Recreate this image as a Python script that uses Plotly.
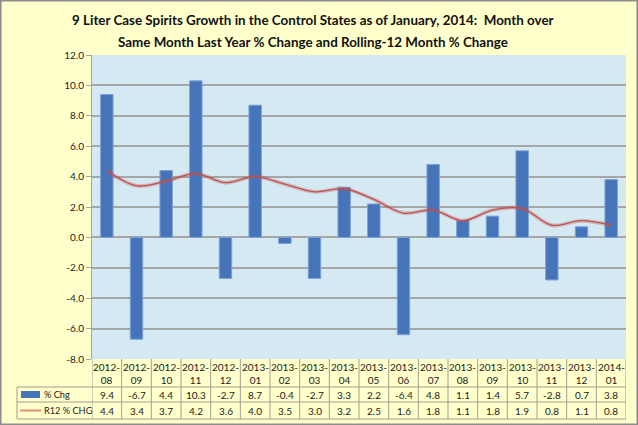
import plotly.graph_objects as go

categories = ["2012-08","2012-09","2012-10","2012-11","2012-12","2013-01","2013-02","2013-03",
              "2013-04","2013-05","2013-06","2013-07","2013-08","2013-09","2013-10","2013-11",
              "2013-12","2014-01"]
pct_chg = [9.4,-6.7,4.4,10.3,-2.7,8.7,-0.4,-2.7,3.3,2.2,-6.4,4.8,1.1,1.4,5.7,-2.8,0.7,3.8]
r12_chg = [4.4,3.4,3.7,4.2,3.6,4.0,3.5,3.0,3.2,2.5,1.6,1.8,1.1,1.8,1.9,0.8,1.1,0.8]
series_names = ["% Chg", "R12 % CHG"]
y_ticks = [-8,-6,-4,-2,0,2,4,6,8,10,12]
title_lines = ["9 Liter Case Spirits Growth in the Control States as of January, 2014:  Month over",
               "Same Month Last Year % Change and Rolling-12 Month % Change"]

W, H = 638, 425
L, R, T, B = 92, 12, 55, 66
PW, PH = W - L - R, H - T - B
def px(x): return (x - L) / PW
def py(y): return (H - B - y) / PH

FONT = "Lato, sans-serif"
BAR = "#4674B8"
GRID = "#A6A6A6"
TBL = "#A09F8F"

n = len(categories)
xs = list(range(n))

fig = go.Figure()
fig.add_trace(go.Bar(x=xs, y=pct_chg, width=0.42, marker=dict(color=BAR, line=dict(color="#7FA3D6", width=1)),
                     name=series_names[0], showlegend=False))
fig.add_trace(go.Scatter(x=xs, y=r12_chg, mode="lines", line=dict(color="rgba(192,80,77,0.3)", width=4, shape="spline", smoothing=1.0),
                         showlegend=False, hoverinfo="skip"))
fig.add_trace(go.Scatter(x=xs, y=r12_chg, mode="lines", line=dict(color="#C0504D", width=1.3, shape="spline", smoothing=1.0),
                         name=series_names[1], showlegend=False))

shapes = []
annotations = []
shapes.append(dict(type="rect", xref="paper", yref="paper", x0=px(0.75), x1=px(W-0.75), y0=py(0.75), y1=py(H-0.75),
                   line=dict(color="#8C8C8C", width=1.5), fillcolor="rgba(0,0,0,0)", layer="below"))
y_top, y_hdr, y_r1, y_r2 = H - B, 387, 402, 419
x_tbl = 17
def hline(y, x0, x1):
    shapes.append(dict(type="line", xref="paper", yref="paper", x0=px(x0), x1=px(x1), y0=py(y), y1=py(y),
                       line=dict(color=TBL, width=1)))
hline(y_hdr, x_tbl, W - R)
hline(y_r1, x_tbl, W - R)
hline(y_r2, x_tbl, W - R)
shapes.append(dict(type="line", xref="paper", yref="paper", x0=px(x_tbl), x1=px(x_tbl), y0=py(y_hdr), y1=py(y_r2),
                   line=dict(color=TBL, width=1)))
for i in range(n + 1):
    shapes.append(dict(type="line", xref="x", yref="paper", x0=i - 0.5, x1=i - 0.5, y0=py(y_top), y1=py(y_r2),
                       line=dict(color=TBL, width=1)))
shapes.append(dict(type="rect", xref="paper", yref="paper", x0=px(21), x1=px(40), y0=py(391), y1=py(398),
                   fillcolor=BAR, line=dict(width=0)))
shapes.append(dict(type="line", xref="paper", yref="paper", x0=px(20), x1=px(41), y0=py(410.5), y1=py(410.5),
                   line=dict(color="#E0907A", width=2)))
annotations.append(dict(text=series_names[0], xref="paper", yref="paper", x=px(42), y=py(394.5), xanchor="left",
                        yanchor="middle", showarrow=False, font=dict(size=9.2, color="#222")))
annotations.append(dict(text=series_names[1], xref="paper", yref="paper", x=px(42), y=py(410.5), xanchor="left",
                        yanchor="middle", showarrow=False, font=dict(size=9.2, color="#222")))
for i, c in enumerate(categories):
    yr, mo = c.split("-")
    annotations.append(dict(text=f"{yr}-<br>{mo}", xref="x", yref="paper", x=i, y=py(373), yanchor="middle",
                            showarrow=False, font=dict(size=10, color="#222")))
    annotations.append(dict(text=f"{pct_chg[i]:.1f}", xref="x", yref="paper", x=i, y=py(394.5), yanchor="middle",
                            showarrow=False, font=dict(size=10, color="#222")))
    annotations.append(dict(text=f"{r12_chg[i]:.1f}", xref="x", yref="paper", x=i, y=py(410.5), yanchor="middle",
                            showarrow=False, font=dict(size=10, color="#222")))
for k, (line, ypix) in enumerate(zip(title_lines, [20, 42])):
    annotations.append(dict(text=f"<b>{line}</b>", xref="paper", yref="paper", x=px(313), y=py(ypix),
                            xanchor="center", yanchor="middle", showarrow=False,
                            font=dict(size=13.4, family=FONT, color="#111")))

fig.update_layout(
    width=W, height=H, margin=dict(l=L, r=R, t=T, b=B, pad=0),
    paper_bgcolor="#FFFFCC", plot_bgcolor="#D5E9F2",
    font=dict(family=FONT, size=10, color="#222"),
    bargap=0.5,
    xaxis=dict(range=[-0.5, n - 0.5], showticklabels=False, showgrid=False, zeroline=False, ticks="",
               showline=False),
    yaxis=dict(range=[-8, 12], tickvals=y_ticks, ticktext=[f"{v:.1f}" for v in y_ticks],
               showgrid=True, gridcolor=GRID, gridwidth=1.5, zeroline=True, zerolinecolor=GRID, zerolinewidth=1.5,
               showline=True, linecolor=GRID, linewidth=1, ticks="outside", ticklen=5, tickcolor=GRID,
               tickfont=dict(size=10, color="#222")),
    shapes=shapes, annotations=annotations,
)
fig.write_html("out.html", config={"displayModeBar": False},
               post_script="document.body.style.margin='0';document.body.style.overflow='hidden';")
